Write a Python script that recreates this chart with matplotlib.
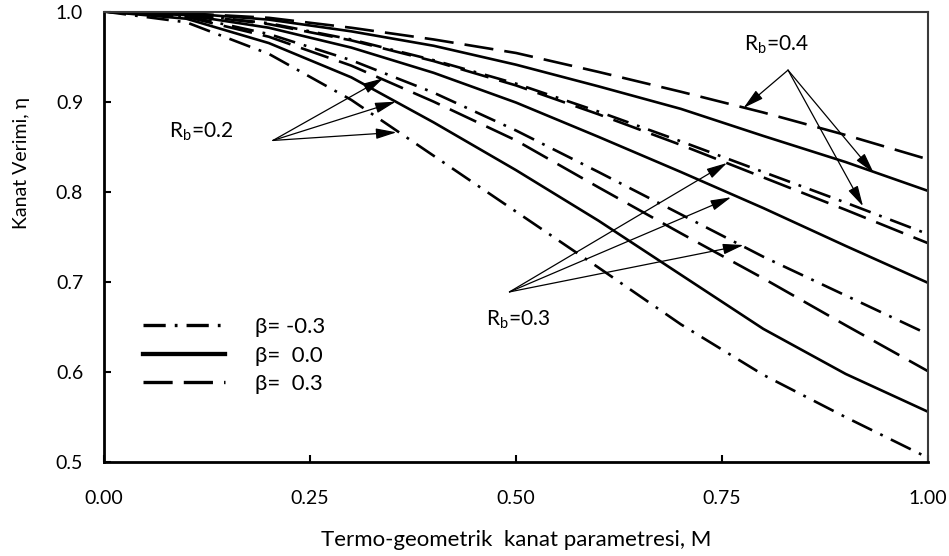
import numpy as np
import matplotlib
matplotlib.use("Agg")
import matplotlib.pyplot as plt

plt.rcParams['font.family'] = ['Lato', 'DejaVu Sans']
plt.rcParams['mathtext.default'] = 'regular'
plt.rcParams['lines.scale_dashes'] = False

# ------------------------------------------------------------
# Data (fin efficiency vs M)
# ------------------------------------------------------------
M = [0.0, 0.1, 0.2, 0.3, 0.4, 0.5, 0.6, 0.7, 0.8, 0.9, 1.0]

# Rb = 0.4
eta_rb04_bm03 = [1.0, 0.997, 0.987, 0.969, 0.946, 0.920, 0.889, 0.856, 0.822, 0.788, 0.753]
eta_rb04_b00 = [1.0, 0.998, 0.991, 0.978, 0.962, 0.941, 0.917, 0.892, 0.862, 0.833, 0.801]
eta_rb04_bp03 = [1.0, 0.998, 0.993, 0.982, 0.969, 0.954, 0.933, 0.911, 0.888, 0.863, 0.836]

# Rb = 0.3
eta_rb03_bm03 = [1.0, 0.995, 0.975, 0.946, 0.910, 0.868, 0.822, 0.775, 0.728, 0.685, 0.642]
eta_rb03_b00 = [1.0, 0.996, 0.982, 0.960, 0.932, 0.899, 0.861, 0.822, 0.782, 0.740, 0.699]
eta_rb03_bp03 = [1.0, 0.997, 0.986, 0.968, 0.945, 0.918, 0.886, 0.852, 0.816, 0.780, 0.743]

# Rb = 0.2
eta_rb02_bm03 = [1.0, 0.988, 0.953, 0.902, 0.840, 0.778, 0.716, 0.653, 0.597, 0.550, 0.505]
eta_rb02_b00 = [1.0, 0.992, 0.965, 0.927, 0.877, 0.824, 0.768, 0.708, 0.648, 0.598, 0.556]
eta_rb02_bp03 = [1.0, 0.994, 0.972, 0.940, 0.900, 0.857, 0.805, 0.754, 0.704, 0.652, 0.601]

legend_labels = ['\u03b2= -0.3', '\u03b2=  0.0', '\u03b2=  0.3']

# line styles (points)
ls_dashdot = (0, (16, 6.5, 2, 6.5))
ls_dashed = (0, (21, 8))
LW = 1.9

fig = plt.figure(figsize=(9.49, 5.56), dpi=100)
ax = fig.add_axes([0.1096, 0.1685, 0.8684, 0.8108])

for eta in [eta_rb04_bm03, eta_rb03_bm03, eta_rb02_bm03]:
    ax.plot(M, eta, color='k', lw=LW, linestyle=ls_dashdot)
for eta in [eta_rb04_b00, eta_rb03_b00, eta_rb02_b00]:
    ax.plot(M, eta, color='k', lw=LW, linestyle='-')
for eta in [eta_rb04_bp03, eta_rb03_bp03, eta_rb02_bp03]:
    ax.plot(M, eta, color='k', lw=LW, linestyle=ls_dashed)

# legend (proxy lines, no frame)
h1, = ax.plot([], [], color='k', lw=LW + 0.5, linestyle=ls_dashdot)
h2, = ax.plot([], [], color='k', lw=LW + 1.2, linestyle='-')
h3, = ax.plot([], [], color='k', lw=LW + 0.5, linestyle=ls_dashed)
leg = ax.legend([h1, h2, h3], legend_labels, loc='upper left',
                bbox_to_anchor=(0.047, 0.322), frameon=False, fontsize=16,
                handlelength=3.7, handletextpad=1.35, labelspacing=0.38,
                borderpad=0, borderaxespad=0)

# annotations with arrows
arrow_kw = dict(arrowstyle='-|>,head_length=0.7,head_width=0.18', color='k',
                lw=0.9, shrinkA=0, shrinkB=0, mutation_scale=18)

ax.text(0.118, 0.866, 'R$_b$=0.2', fontsize=15, ha='center', va='center')
for tip in [(0.339, 0.926), (0.354, 0.900), (0.355, 0.866)]:
    ax.annotate('', xy=tip, xytext=(0.205, 0.857), arrowprops=arrow_kw)

ax.text(0.502, 0.658, 'R$_b$=0.3', fontsize=15, ha='center', va='center')
for tip in [(0.756, 0.832), (0.761, 0.794), (0.776, 0.741)]:
    ax.annotate('', xy=tip, xytext=(0.492, 0.689), arrowprops=arrow_kw)

ax.text(0.816, 0.963, 'R$_b$=0.4', fontsize=15, ha='center', va='center')
for tip in [(0.776, 0.893), (0.934, 0.821), (0.921, 0.784)]:
    ax.annotate('', xy=tip, xytext=(0.830, 0.935), arrowprops=arrow_kw)

# axes formatting
ax.set_xlim(0, 1.0)
ax.set_ylim(0.5, 1.0)
ax.set_xticks([0.0, 0.25, 0.5, 0.75, 1.0])
ax.set_xticklabels(['0.00', '0.25', '0.50', '0.75', '1.00'])
ax.set_yticks([0.5, 0.6, 0.7, 0.8, 0.9, 1.0])
ax.set_yticklabels(['0.5', '0.6', '0.7', '0.8', '0.9', '1.0'])
ax.tick_params(axis='both', direction='in', length=5, width=1.5, labelsize=14)
ax.tick_params(axis='x', pad=20)
ax.tick_params(axis='y', pad=15)

for side in ['left', 'bottom']:
    ax.spines[side].set_linewidth(2.0)
    ax.spines[side].set_color('k')
for side in ['top', 'right']:
    ax.spines[side].set_linewidth(1.5)
    ax.spines[side].set_color('#3a3a3a')

ax.set_xlabel('Termo-geometrik  kanat parametresi, M', fontsize=16)
ax.set_ylabel('Kanat Verimi, \u03b7', fontsize=14)
ax.xaxis.label.set_va('center')
ax.yaxis.label.set_va('center')
ax.xaxis.set_label_coords(0.5006, -0.172)
ax.yaxis.set_label_coords(-0.1007, 0.665)

fig.savefig('out.png', dpi=100)
